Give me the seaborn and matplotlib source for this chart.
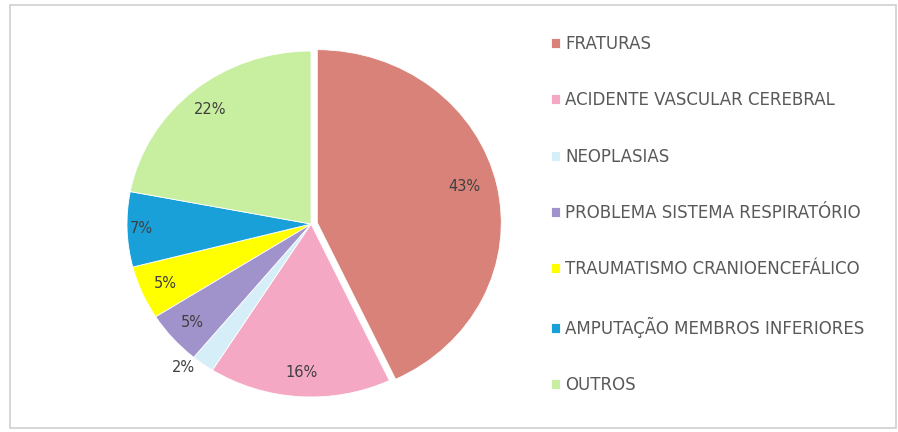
import matplotlib
matplotlib.use("Agg")
import matplotlib.pyplot as plt
from matplotlib.patches import Rectangle
import numpy as np
import seaborn as sns

# Causes of referral (percent of patients)
categories = [
    "FRATURAS",
    "ACIDENTE VASCULAR CEREBRAL",
    "NEOPLASIAS",
    "PROBLEMA SISTEMA RESPIRATÓRIO",
    "TRAUMATISMO CRANIOENCEFÁLICO",
    "AMPUTAÇÃO MEMBROS INFERIORES",
    "OUTROS",
]
percentages = [43, 16, 2, 5, 5, 7, 22]
slice_colors = ["#D9827A", "#F5A8C4", "#D5EEF8", "#A093CC", "#FFFF00", "#1AA0D8", "#C8EFA0"]

sns.set_theme(style="white")
plt.rcParams["font.family"] = ["DejaVu Sans"]
palette = sns.color_palette(slice_colors)

W, H = 898, 432
fig = plt.figure(figsize=(W / 100, H / 100), dpi=100)
fig.patch.set_facecolor("white")

# thin frame around the chart area
fig.add_artist(Rectangle((10 / W, 4 / H), 886 / W, 423 / H, transform=fig.transFigure,
                         fill=False, edgecolor="#D0D0D0", linewidth=1.2))

# pie axes: slightly squashed vertically (rx=184px, ry=173px)
cx, cy, rx, ry = 311, 224, 184, 173
xr, yr = 1.5, 1.25
ax_w, ax_h = 2 * xr * rx, 2 * yr * ry
ax = fig.add_axes([(cx - ax_w / 2) / W, (H - cy - ax_h / 2) / H, ax_w / W, ax_h / H])

explode = [0.035, 0, 0, 0, 0, 0, 0]
wedges, texts, autotexts = ax.pie(
    percentages, colors=palette, startangle=90, counterclock=False,
    explode=explode, autopct="%d%%", pctdistance=0.86,
    wedgeprops=dict(edgecolor="white", linewidth=0.6),
    textprops=dict(color="#3F3F3F", fontsize=10.5),
)
ax.set_aspect("auto")
ax.set_xlim(-xr, xr)
ax.set_ylim(-yr, yr)
ax.axis("off")


def place(i, dist, shift=0.0):
    w = wedges[i]
    a = np.deg2rad((w.theta1 + w.theta2) / 2 + shift)
    autotexts[i].set_position((dist * np.cos(a), dist * np.sin(a)))


place(0, 0.86, 2.0)
place(2, 1.08, -4.0)   # tiny slice: label sits just outside
place(5, 0.92)

leg = fig.legend(
    wedges, categories, loc="upper left",
    bbox_to_anchor=(551 / W, 1 - 35 / H), frameon=False,
    borderpad=0, borderaxespad=0, handlelength=0.55, handleheight=0.55,
    handletextpad=0.3, labelspacing=2.3, fontsize=12,
)
for t in leg.get_texts():
    t.set_color("#595959")

fig.savefig("out.png", dpi=100)
